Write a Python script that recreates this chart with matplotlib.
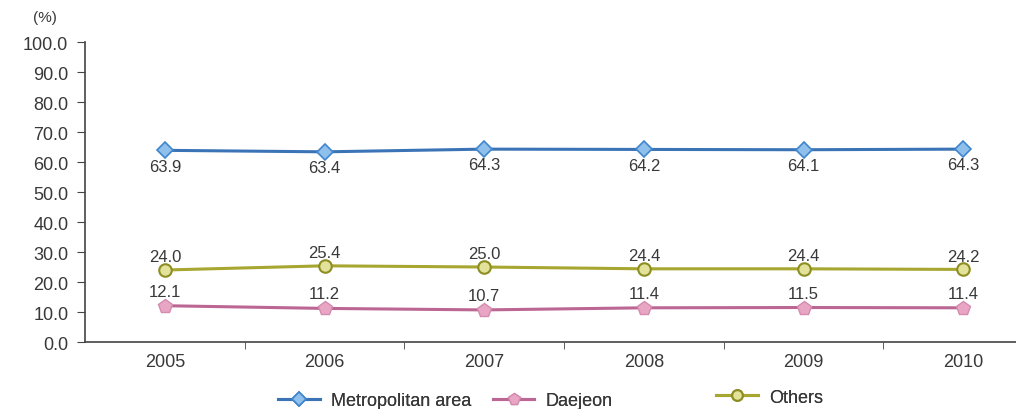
import matplotlib.pyplot as plt
import numpy as np

years = ['2005', '2006', '2007', '2008', '2009', '2010']
metro = [63.9, 63.4, 64.3, 64.2, 64.1, 64.3]
daejeon = [12.1, 11.2, 10.7, 11.4, 11.5, 11.4]
others = [24.0, 25.4, 25.0, 24.4, 24.4, 24.2]

plt.rcParams['font.family'] = ['Liberation Sans', 'DejaVu Sans']
txt = '#383838'

fig = plt.figure(figsize=(10.16, 4.10), dpi=100)
ax = fig.add_axes([0.0837, 0.1634, 0.9163, 0.7316])
x = np.arange(len(years))

l1, = ax.plot(x, metro, '-D', color='#3b74b6', lw=2.2, ms=8, mfc='#8fc0ec', mec='#3f86cf', mew=1.2,
              label='Metropolitan area')
l2, = ax.plot(x, daejeon, '-p', color='#bb6693', lw=2.2, ms=10, mfc='#e8a6c4', mec='#d58bb0', mew=1,
              label='Daejeon')
l3, = ax.plot(x, others, '-o', color='#a6a630', lw=2.2, ms=9, mfc='#e2e29a', mec='#8d8d22', mew=1.5,
              label='Others')

for i in x:
    ax.annotate(f'{metro[i]:.1f}', (i, metro[i]), xytext=(0, -6), textcoords='offset points',
                ha='center', va='top', fontsize=12, color=txt)
    ax.annotate(f'{daejeon[i]:.1f}', (i, daejeon[i]), xytext=(0, 5), textcoords='offset points',
                ha='center', va='bottom', fontsize=12, color=txt)
    ax.annotate(f'{others[i]:.1f}', (i, others[i]), xytext=(0, 4), textcoords='offset points',
                ha='center', va='bottom', fontsize=12, color=txt)

ax.set_ylim(0, 100)
ax.set_yticks(np.arange(0, 101, 10))
ax.set_yticklabels([f'{v:.1f}' for v in np.arange(0, 101, 10)], fontsize=13, color=txt)
ax.set_xlim(-0.5, 5.33)
ax.set_xticks(x)
ax.set_xticklabels(years, fontsize=13, color=txt)
ax.set_xticks(x[:-1] + 0.5, minor=True)
ax.tick_params(axis='x', which='major', length=0, pad=8)
ax.tick_params(axis='x', which='minor', length=5, direction='out', color='#444444')
ax.tick_params(axis='y', length=6, direction='out', color='#444444', pad=6)

for s in ['top', 'right']:
    ax.spines[s].set_visible(False)
for s in ['left', 'bottom']:
    ax.spines[s].set_color('#444444')
    ax.spines[s].set_linewidth(1.2)

fig.text(0.044, 0.955, '(%)', fontsize=11, color=txt, ha='center', va='center')

# one legend entry per series, spread along the bottom
for line, xpos, ypos in [(l1, 0.274, 0.021), (l2, 0.485, 0.021), (l3, 0.705, 0.029)]:
    leg = fig.legend(handles=[line], loc='center left', bbox_to_anchor=(xpos, ypos),
                     frameon=False, fontsize=13, handlelength=2.3, handletextpad=0.6,
                     borderpad=0, borderaxespad=0, labelcolor=txt, markerscale=0.85)
    fig.add_artist(leg)

fig.savefig('out.png', dpi=100)
